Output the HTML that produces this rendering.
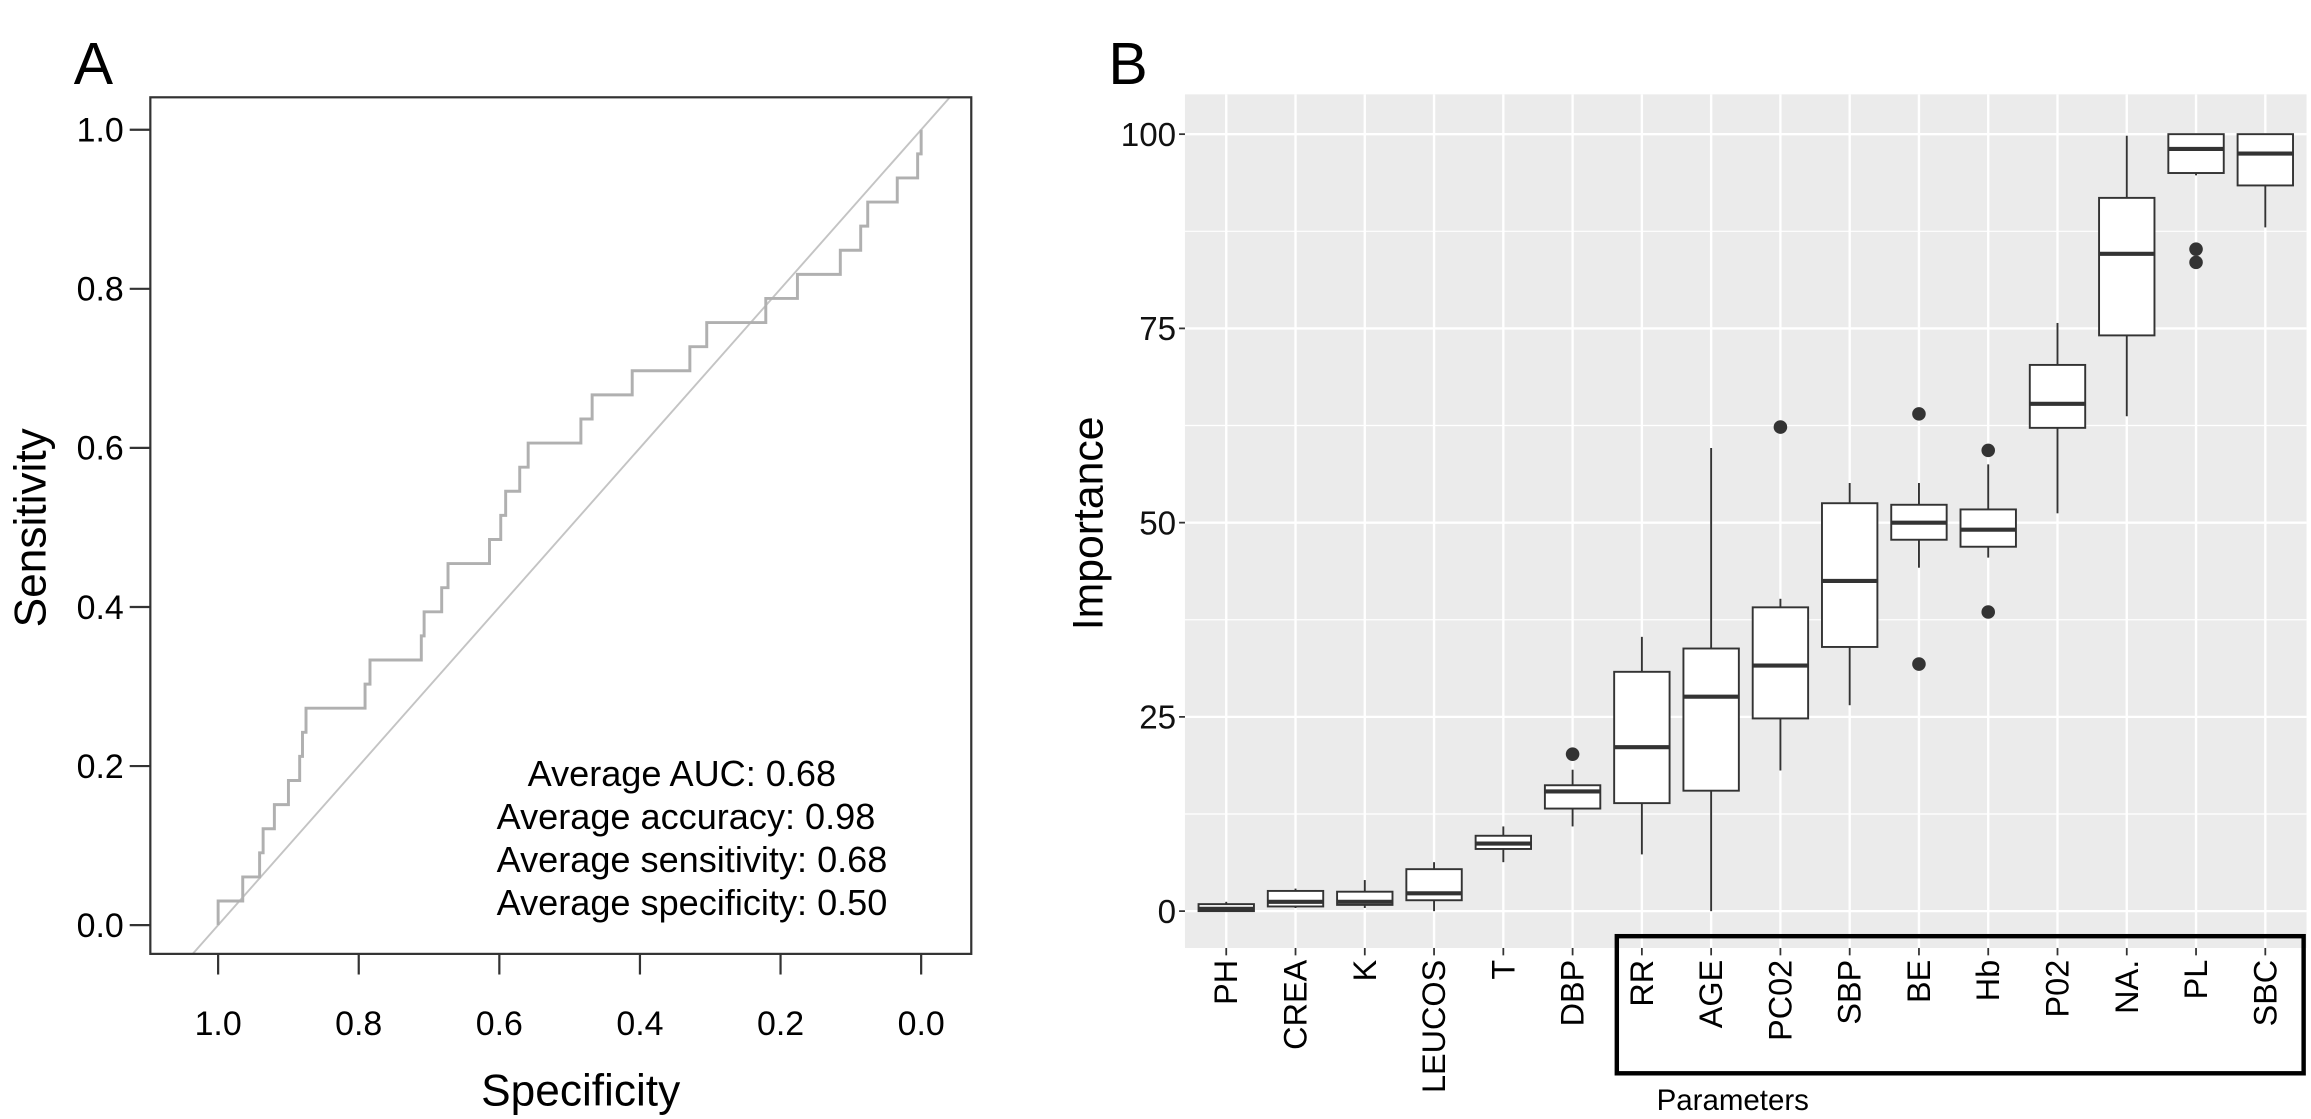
<!DOCTYPE html>
<html><head><meta charset="utf-8"><style>
html,body{margin:0;padding:0;background:#fff;}
svg{display:block;font-family:"Liberation Sans",Arial,sans-serif;}
</style></head><body>
<svg id="fig" width="2311" height="1119" viewBox="0 0 1568 759" preserveAspectRatio="none" xmlns="http://www.w3.org/2000/svg">
<g id="panelA"></g>
<g id="panelB"></g>
</svg>
<script>
// ---- Panel A data ----
const rocSpec = [1.0,0.965,0.941,0.936,0.92,0.90,0.884,0.88,0.875,0.791,0.784,0.711,0.707,0.682,0.673,0.614,0.598,0.591,0.571,0.559,0.484,0.468,0.411,0.329,0.305,0.221,0.176,0.115,0.086,0.076,0.034,0.005,0.0];
const rocSens = [1,2,3,4,5,6,7,8,9,10,11,12,13,14,15,16,17,18,19,20,21,22,23,24,25,26,27,28,29,30,31,32,33].map(v=>v/33);
const rocTicks = ["1.0","0.8","0.6","0.4","0.2","0.0"];
const rocTickVals = [1.0,0.8,0.6,0.4,0.2,0.0];
const annotLines = ["Average AUC: 0.68","Average accuracy: 0.98","Average sensitivity: 0.68","Average specificity: 0.50"];

// ---- Panel B data ----
const params = ["PH","CREA","K","LEUCOS","T","DBP","RR","AGE","PC02","SBP","BE","Hb","P02","NA.","PL","SBC"];
const q1  = [0.0,0.6,0.8,1.4,8.0,13.2,13.9,15.5,24.8,34.0,47.8,46.9,62.2,74.1,95.0,93.4];
const med = [0.3,1.2,1.2,2.3,8.7,15.4,21.1,27.6,31.6,42.5,50.0,49.1,65.3,84.6,98.1,97.5];
const q3  = [0.9,2.6,2.5,5.4,9.7,16.2,30.8,33.8,39.1,52.5,52.3,51.7,70.3,91.8,100,100];
const wlo = [0.0,0.4,0.4,0.0,6.3,10.9,7.3,0.0,18.1,26.5,44.2,45.5,51.2,63.7,94.7,88.0];
const whi = [1.2,2.9,4.0,6.3,10.9,18.2,35.3,59.6,40.2,55.1,55.1,57.5,75.7,99.8,100,100];
const outIdx = [5,8,10,10,11,11,14,14];
const outVal = [20.2,62.3,64.0,31.8,59.3,38.5,85.2,83.5];
const impTicks = ["0","25","50","75","100"];
const impTickVals = [0,25,50,75,100];

const NS="http://www.w3.org/2000/svg";
function mk(parent,tag,attrs,text){const e=document.createElementNS(NS,tag);for(const k in attrs)e.setAttribute(k,attrs[k]);if(text!==undefined)e.textContent=text;parent.appendChild(e);return e;}

// ===== Panel A =====
const A=document.getElementById('panelA');
const ax={l:102,r:659,t:66,b:647};
const sx=s=>625+(148-625)*s; // spec 1 -> 148, 0 -> 625
const sy=v=>627.5-(627.5-88)*v;
let e;
e=mk(A,'text',{x:50,y:57,'font-size':40,fill:'#000'},'A');

mk(A,'clipPath',{id:'clipA'}).appendChild(document.createElementNS(NS,'rect'));
const cr=A.querySelector('#clipA rect');cr.setAttribute('x',ax.l);cr.setAttribute('y',ax.t);cr.setAttribute('width',ax.r-ax.l);cr.setAttribute('height',ax.b-ax.t);
e=mk(A,'line',{x1:sx(1.2),y1:sy(-0.2),x2:sx(-0.2),y2:sy(1.2),stroke:'#c4c4c4','stroke-width':1.3,'clip-path':'url(#clipA)'});

let d=`M${sx(1)},${sy(0)}`;
for(let i=0;i<rocSpec.length;i++){d+=` H${sx(rocSpec[i])} V${sy(rocSens[i])}`;}
e=mk(A,'path',{d:d,fill:'none',stroke:'#b0b0b0','stroke-width':2});

e=mk(A,'rect',{x:ax.l,y:ax.t,width:ax.r-ax.l,height:ax.b-ax.t,fill:'none',stroke:'#333','stroke-width':1.5});

rocTickVals.forEach((v,i)=>{
  mk(A,'line',{x1:ax.l-14,x2:ax.l,y1:sy(v),y2:sy(v),stroke:'#333','stroke-width':1.5});
  e=mk(A,'text',{x:84,y:sy(v)+8,'font-size':23,'text-anchor':'end',fill:'#000'},rocTicks[i]);
  
  mk(A,'line',{x1:sx(v),x2:sx(v),y1:ax.b,y2:ax.b+14,stroke:'#333','stroke-width':1.5});
  e=mk(A,'text',{x:sx(v),y:702,'font-size':23,'text-anchor':'middle',fill:'#000'},rocTicks[i]);
  
});
e=mk(A,'text',{x:394,y:750,'font-size':30,'text-anchor':'middle',fill:'#000'},'Specificity');

e=mk(A,'text',{x:0,y:0,'font-size':30,'text-anchor':'middle',fill:'#000',transform:'translate(31,358) rotate(-90)'},'Sensitivity');

annotLines.forEach((t,i)=>{
  e=mk(A,'text',{x:i==0?358:337,y:533+i*29.2,'font-size':24.5,fill:'#000'},t);
  
});

// ===== Panel B =====
const B=document.getElementById('panelB');
const pb={l:804,r:1565,t:64,b:643};
const bx=i=>832+i*47;
const by=v=>618-(618-91)*v/100;
e=mk(B,'text',{x:752,y:57,'font-size':40,fill:'#000'},'B');

e=mk(B,'rect',{x:pb.l,y:pb.t,width:pb.r-pb.l,height:pb.b-pb.t,fill:'#ebebeb'});

for(let v=12.5;v<100;v+=25){mk(B,'line',{x1:pb.l,x2:pb.r,y1:by(v),y2:by(v),stroke:'#fff','stroke-width':0.8});}
impTickVals.forEach(v=>mk(B,'line',{x1:pb.l,x2:pb.r,y1:by(v),y2:by(v),stroke:'#fff','stroke-width':1.6}));
params.forEach((p,i)=>mk(B,'line',{x1:bx(i),x2:bx(i),y1:pb.t,y2:pb.b,stroke:'#fff','stroke-width':1.6}));
params.forEach((p,i)=>{
  const g=mk(B,'g',{});
  
  
  const x=bx(i),hw=18.8;
  mk(g,'line',{x1:x,x2:x,y1:by(whi[i]),y2:by(q3[i]),stroke:'#333','stroke-width':1.3});
  mk(g,'line',{x1:x,x2:x,y1:by(q1[i]),y2:by(wlo[i]),stroke:'#333','stroke-width':1.3});
  mk(g,'rect',{x:x-hw,y:by(q3[i]),width:hw*2,height:Math.max(by(q1[i])-by(q3[i]),1),fill:'#fff',stroke:'#333','stroke-width':1.3});
  mk(g,'line',{x1:x-hw,x2:x+hw,y1:by(med[i]),y2:by(med[i]),stroke:'#333','stroke-width':2.8});
});
outIdx.forEach((k,j)=>{
  e=mk(B,'circle',{cx:bx(k),cy:by(outVal[j]),r:4.6,fill:'#333'});
  
});
impTickVals.forEach((v,i)=>{
  mk(B,'line',{x1:pb.l-4,x2:pb.l,y1:by(v),y2:by(v),stroke:'#333','stroke-width':1.2});
  e=mk(B,'text',{x:pb.l-6,y:by(v)+8,'font-size':22.5,'text-anchor':'end',fill:'#111'},impTicks[i]);
  
});
params.forEach((p,i)=>{
  mk(B,'line',{x1:bx(i),x2:bx(i),y1:pb.b,y2:pb.b+5,stroke:'#333','stroke-width':1.2});
  e=mk(B,'text',{x:0,y:0,'font-size':22,'text-anchor':'end','dominant-baseline':'central',fill:'#000',transform:`translate(${bx(i)},651) rotate(-90)`},p);
  
});
e=mk(B,'text',{x:0,y:0,'font-size':29,'text-anchor':'middle',fill:'#000',transform:'translate(748,355) rotate(-90)'},'Importance');

e=mk(B,'rect',{x:1097,y:635,width:466,height:93,fill:'none',stroke:'#000','stroke-width':3});

e=mk(B,'text',{x:1124,y:753,'font-size':20,fill:'#000'},'Parameters');

</script>
</body></html>
